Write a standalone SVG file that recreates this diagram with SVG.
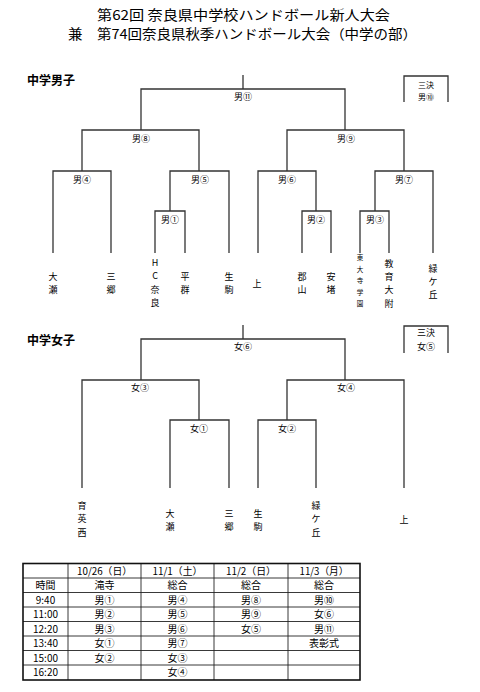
<svg xmlns="http://www.w3.org/2000/svg" width="480" height="692" viewBox="0 0 480 692">
<style>
text{font-family:"Noto Sans CJK JP","Noto Sans CJK SC",sans-serif;fill:#000}
.title{font-size:13.5px}
.sec{font-size:12px;font-weight:bold}
.lbl{font-size:9px;text-anchor:middle}
.lbs{font-size:8px;text-anchor:middle}
.team{font-size:9px;text-anchor:middle}
.small{font-size:6.5px;text-anchor:middle}
.br{fill:none;stroke:#333;stroke-width:1.3}
.grid{fill:none;stroke:#222;stroke-width:0.9}
.outer{fill:none;stroke:#111;stroke-width:1.6}
.cell{font-size:10px;text-anchor:middle}
</style>
<rect width="480" height="692" fill="#fff"/>
<g id="title">
<text class="title" x="97" y="19.5" textLength="293" lengthAdjust="spacingAndGlyphs">第62回 奈良県中学校ハンドボール新人大会</text>
<text class="title" x="68" y="39" textLength="349" lengthAdjust="spacingAndGlyphs">兼　第74回奈良県秋季ハンドボール大会（中学の部）</text>
</g>
<g id="sec-boys"><text class="sec" x="27" y="85">中学男子</text></g>
<g id="sec-girls"><text class="sec" x="27" y="345">中学女子</text></g>

<g id="connectors">
<path class="br" d="M243,75 V89"/>
<path class="br" d="M141,130 V89 H345 V130"/>
<path class="br" d="M82,171 V130 H199 V171"/>
<path class="br" d="M287,171 V130 H404 V171"/>
<path class="br" d="M53,253 V171 H111 V253"/>
<path class="br" d="M170,211 V171 H229 V253"/>
<path class="br" d="M155,253 V211 H185 V253"/>
<path class="br" d="M258,253 V171 H316 V211"/>
<path class="br" d="M302,253 V211 H331 V253"/>
<path class="br" d="M375,211 V171 H433 V253"/>
<path class="br" d="M360,253 V211 H389 V253"/>
<path class="br" d="M404,102 V76 H448 V102"/>
<path class="br" d="M243,325 V339"/>
<path class="br" d="M141,380 V339 H345 V380"/>
<path class="br" d="M82,488 V380 H199 V420"/>
<path class="br" d="M287,420 V380 H404 V488"/>
<path class="br" d="M170,488 V420 H229 V488"/>
<path class="br" d="M258,488 V420 H316 V488"/>
<path class="br" d="M404,353 V326 H448 V353"/>
</g>

<g id="m11"><text class="lbl" x="243" y="100">男⑪</text></g>
<g id="m8"><text class="lbl" x="141" y="142">男⑧</text></g>
<g id="m9"><text class="lbl" x="346" y="142">男⑨</text></g>
<g id="m4"><text class="lbl" x="82" y="183">男④</text></g>
<g id="m5"><text class="lbl" x="200" y="183">男⑤</text></g>
<g id="m6"><text class="lbl" x="287" y="183">男⑥</text></g>
<g id="m7"><text class="lbl" x="404" y="183">男⑦</text></g>
<g id="m1"><text class="lbl" x="170" y="223">男①</text></g>
<g id="m2"><text class="lbl" x="316" y="223">男②</text></g>
<g id="m3"><text class="lbl" x="375" y="223">男③</text></g>
<g id="m10"><text class="lbs" x="426" y="87.5">三決</text><text class="lbs" x="426" y="99.5">男⑩</text></g>

<g id="bt-oze"><text class="team" x="53" y="280">大</text><text class="team" x="53" y="293">瀬</text></g>
<g id="bt-sango"><text class="team" x="111" y="280">三</text><text class="team" x="111" y="293">郷</text></g>
<g id="bt-hcnara"><text class="team" x="155" y="266">H</text><text class="team" x="155" y="279">C</text><text class="team" x="155" y="292.5">奈</text><text class="team" x="155" y="306">良</text></g>
<g id="bt-heguri"><text class="team" x="185" y="280">平</text><text class="team" x="185" y="293">群</text></g>
<g id="bt-ikoma"><text class="team" x="229" y="280">生</text><text class="team" x="229" y="293">駒</text></g>
<g id="bt-kami"><text class="team" x="257" y="286.5">上</text></g>
<g id="bt-koriyama"><text class="team" x="302" y="280">郡</text><text class="team" x="302" y="293">山</text></g>
<g id="bt-ando"><text class="team" x="331" y="280">安</text><text class="team" x="331" y="293">堵</text></g>
<g id="bt-todaiji"><text class="small" x="360" y="260">東</text><text class="small" x="360" y="271.5">大</text><text class="small" x="360" y="283">寺</text><text class="small" x="360" y="294.5">学</text><text class="small" x="360" y="306">園</text></g>
<g id="bt-kyoiku"><text class="team" x="389" y="267">教</text><text class="team" x="389" y="280">育</text><text class="team" x="389" y="293.3">大</text><text class="team" x="389" y="306.6">附</text></g>
<g id="bt-midori"><text class="team" x="433" y="272">緑</text><text class="team" x="433" y="285">ケ</text><text class="team" x="433" y="298">丘</text></g>

<g id="f6"><text class="lbl" x="243" y="350">女⑥</text></g>
<g id="f3"><text class="lbl" x="140" y="391">女③</text></g>
<g id="f4"><text class="lbl" x="346" y="391">女④</text></g>
<g id="f1"><text class="lbl" x="199" y="431.5">女①</text></g>
<g id="f2"><text class="lbl" x="287" y="431.5">女②</text></g>
<g id="f5"><text class="lbl" x="426" y="336">三決</text><text class="lbl" x="426" y="350">女⑤</text></g>

<g id="gt-ikueinishi"><text class="team" x="82" y="508.5">育</text><text class="team" x="82" y="522">英</text><text class="team" x="82" y="535.5">西</text></g>
<g id="gt-oze"><text class="team" x="170" y="516.5">大</text><text class="team" x="170" y="530">瀬</text></g>
<g id="gt-sango"><text class="team" x="229" y="516.5">三</text><text class="team" x="229" y="530">郷</text></g>
<g id="gt-ikoma"><text class="team" x="258" y="516.5">生</text><text class="team" x="258" y="530">駒</text></g>
<g id="gt-midori"><text class="team" x="316" y="508.5">緑</text><text class="team" x="316" y="522">ケ</text><text class="team" x="316" y="535.5">丘</text></g>
<g id="gt-kami"><text class="team" x="404" y="523">上</text></g>

<g id="schedule">
<path class="grid" d="M23,578 H360 M23,592.5 H360 M23,607 H360 M23,621.5 H360 M23,636 H360 M23,650.5 H360 M23,665 H360 M68,563.5 V680 M141,563.5 V680 M214,563.5 V680 M288,563.5 V680"/>
<rect class="outer" x="23" y="563.5" width="337" height="116.5"/>
<text class="cell" x="104.5" y="574.5" textLength="55" lengthAdjust="spacingAndGlyphs">10/26（日）</text>
<text class="cell" x="177.5" y="574.5" textLength="50" lengthAdjust="spacingAndGlyphs">11/1（土）</text>
<text class="cell" x="251" y="574.5" textLength="50" lengthAdjust="spacingAndGlyphs">11/2（日）</text>
<text class="cell" x="324" y="574.5" textLength="49" lengthAdjust="spacingAndGlyphs">11/3（月）</text>
<text class="cell" x="45.5" y="589">時間</text><text class="cell" x="104.5" y="589">滝寺</text><text class="cell" x="177.5" y="589">総合</text><text class="cell" x="251" y="589">総合</text><text class="cell" x="324" y="589">総合</text>
<text class="cell" x="45.5" y="603.5">9:40</text><text class="cell" x="104.5" y="603.5">男①</text><text class="cell" x="177.5" y="603.5">男④</text><text class="cell" x="251" y="603.5">男⑧</text><text class="cell" x="324" y="603.5">男⑩</text>
<text class="cell" x="45.5" y="618">11:00</text><text class="cell" x="104.5" y="618">男②</text><text class="cell" x="177.5" y="618">男⑤</text><text class="cell" x="251" y="618">男⑨</text><text class="cell" x="324" y="618">女⑥</text>
<text class="cell" x="45.5" y="632.5">12:20</text><text class="cell" x="104.5" y="632.5">男③</text><text class="cell" x="177.5" y="632.5">男⑥</text><text class="cell" x="251" y="632.5">女⑤</text><text class="cell" x="324" y="632.5">男⑪</text>
<text class="cell" x="45.5" y="647">13:40</text><text class="cell" x="104.5" y="647">女①</text><text class="cell" x="177.5" y="647">男⑦</text><text class="cell" x="324" y="647">表彰式</text>
<text class="cell" x="45.5" y="661.5">15:00</text><text class="cell" x="104.5" y="661.5">女②</text><text class="cell" x="177.5" y="661.5">女③</text>
<text class="cell" x="45.5" y="676">16:20</text><text class="cell" x="177.5" y="676">女④</text>
</g>
</svg>
